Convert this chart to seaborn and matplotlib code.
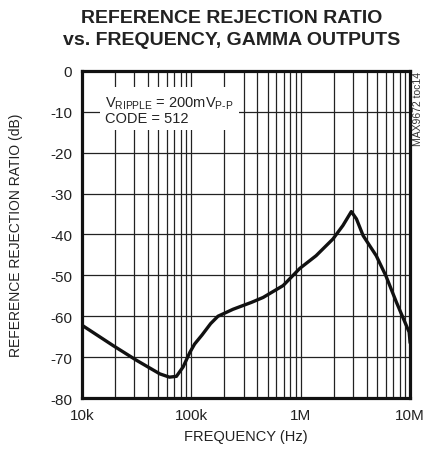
import numpy as np
import pandas as pd
import matplotlib
matplotlib.use("Agg")
import matplotlib.pyplot as plt
import seaborn as sns
from matplotlib.ticker import FixedLocator, NullFormatter, LogLocator

freq_hz = [10e3, 19.3e3, 31.6e3, 51.5e3, 63e3, 73e3, 84e3, 97e3, 107e3, 125e3, 150e3, 175e3,
           240e3, 295e3, 355e3, 453e3, 690e3, 980e3, 1.38e6, 1.97e6, 2.43e6, 2.9e6,
           3.23e6, 3.72e6, 4.9e6, 6.0e6, 7.5e6, 9.8e6, 10e6]
rejection_db = [-62.2, -67.2, -70.8, -74.1, -74.9, -74.7, -72.4, -68.8, -66.8, -64.6, -61.8, -60.0,
                -58.3, -57.4, -56.6, -55.4, -52.5, -48.3, -45.2, -41.1, -37.8, -34.4,
                -36.2, -40.3, -45.2, -50.1, -56.6, -63.9, -66.5]
x_ticks = [1e4, 1e5, 1e6, 1e7]
x_tick_labels = ["10k", "100k", "1M", "10M"]
y_ticks = [0, -10, -20, -30, -40, -50, -60, -70, -80]

sns.set_theme(style="white")
plt.rcParams['font.family'] = ['Liberation Sans Narrow', 'Liberation Sans', 'DejaVu Sans']

df = pd.DataFrame({"freq": freq_hz, "rr": rejection_db})

fig = plt.figure(figsize=(4.25, 4.6), dpi=100)
ax = fig.add_axes([0.193, 0.1326, 0.772, 0.711])

ax.set_xscale("log")
ax.set_xlim(1e4, 1e7)
ax.set_ylim(-80, 0)

ax.xaxis.set_major_locator(FixedLocator(x_ticks))
ax.set_xticklabels(x_tick_labels)
ax.xaxis.set_minor_locator(LogLocator(base=10, subs=np.arange(2, 10)))
ax.xaxis.set_minor_formatter(NullFormatter())
ax.set_yticks(y_ticks)
ax.set_yticklabels([str(v) for v in y_ticks])

ax.grid(True, which="both", axis="x", color="#222222", linewidth=0.9)
ax.grid(True, which="major", axis="y", color="#222222", linewidth=0.9)
ax.set_axisbelow(True)

sns.lineplot(data=df, x="freq", y="rr", ax=ax, color="#111111", linewidth=2.4, zorder=3)

ax.tick_params(axis="both", which="both", length=0, labelsize=11, colors="#222222", pad=7)
for s in ax.spines.values():
    s.set_linewidth(2.3)
    s.set_color("#111111")
    s.set_visible(True)

ax.set_xlabel("FREQUENCY (Hz)", fontsize=10.5, color="#222222", labelpad=5)
ax.set_ylabel("REFERENCE REJECTION RATIO (dB)", fontsize=10, color="#222222", labelpad=20)

ax.text(0.07, 0.93, "V$_{\\mathregular{RIPPLE}}$ = 200mV$_{\\mathregular{P\u2010P}}$\nCODE = 512",
        transform=ax.transAxes, ha="left", va="top", fontsize=10.5, color="#222222",
        linespacing=1.05, zorder=5,
        bbox=dict(boxstyle="square,pad=0.35", facecolor="white", edgecolor="none"))

fig.text(0.545, 0.978, "REFERENCE REJECTION RATIO\nvs. FREQUENCY, GAMMA OUTPUTS",
         ha="center", va="top", fontsize=14, fontweight="bold", color="#222222",
         linespacing=1.4)

fig.text(0.984, 0.843, "MAX9672 toc14", rotation=90, ha="center", va="top",
         fontsize=7.5, color="#333333")

fig.savefig("out.png", dpi=100)
